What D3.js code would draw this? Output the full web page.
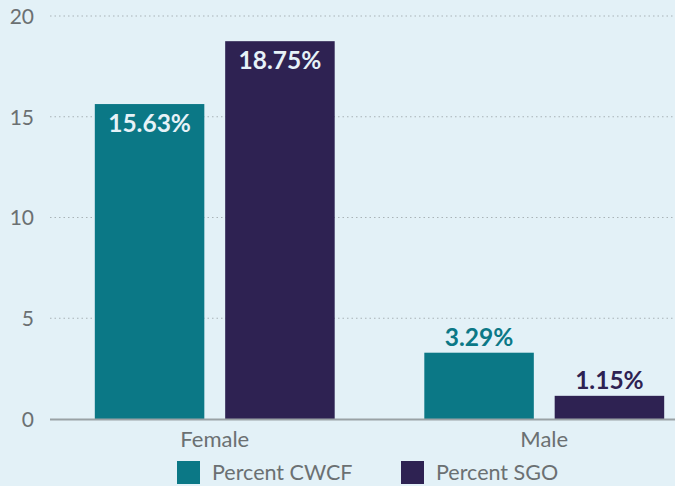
<!DOCTYPE html>
<html>
<head>
<meta charset="utf-8">
<script src="https://cdn.jsdelivr.net/npm/d3@7"></script>
<style>
  html, body { margin: 0; padding: 0; background: #e3f1f7; }
  svg { display: block; font-family: Lato, "Open Sans", sans-serif; }
</style>
</head>
<body>
<svg id="chart" width="675" height="486"></svg>
<script>
// dados do gráfico
const groups = ["Female", "Male"];
const seriesNames = ["Percent CWCF", "Percent SGO"];
const cwcfValues = [15.63, 3.29];
const sgoValues = [18.75, 1.15];
const yTicks = [0, 5, 10, 15, 20];

const colors = ["#0b7886", "#2e2252"];
const textGrey = "#6b7072";

const svg = d3.select("#chart");
const W = 675, H = 486;

// escalas
const y = d3.scaleLinear().domain([0, 20]).range([419, 16]);
const x0 = d3.scaleBand().domain(groups).range([50, 709])
    .paddingInner(0.272).paddingOuter(0.136);
const x1 = d3.scaleBand().domain(seriesNames).range([0, x0.bandwidth()])
    .paddingInner(0.16);

// linhas de grade pontilhadas
svg.append("g")
    .selectAll("line")
    .data(yTicks.filter(d => d > 0))
    .join("line")
    .attr("x1", 50).attr("x2", W)
    .attr("y1", d => y(d)).attr("y2", d => y(d))
    .attr("stroke", "#a9b3b7")
    .attr("stroke-width", 1.2)
    .attr("stroke-dasharray", "1.5,3");

// eixo Y
const yAxis = svg.append("g")
    .attr("transform", "translate(34,0)")
    .call(d3.axisLeft(y).tickValues(yTicks).tickSize(0).tickPadding(0));
yAxis.select(".domain").remove();
yAxis.selectAll("text")
    .attr("fill", textGrey)
    .attr("font-size", 21)
    .attr("font-family", "Lato, sans-serif")
    .attr("dy", "0.35em");

// barras
const rows = groups.map((g, i) => ({ group: g, values: [cwcfValues[i], sgoValues[i]] }));

const gGroups = svg.append("g")
    .selectAll("g")
    .data(rows)
    .join("g")
    .attr("transform", d => `translate(${x0(d.group)},0)`);

gGroups.selectAll("rect")
    .data(d => d.values.map((v, j) => ({ series: seriesNames[j], value: v, idx: j })))
    .join("rect")
    .attr("x", d => x1(d.series))
    .attr("y", d => y(d.value))
    .attr("width", x1.bandwidth())
    .attr("height", d => y(0) - y(d.value))
    .attr("fill", d => colors[d.idx]);

// rótulos de valor
gGroups.selectAll("text.val")
    .data(d => d.values.map((v, j) => ({ series: seriesNames[j], value: v, idx: j })))
    .join("text")
    .attr("class", "val")
    .attr("x", d => x1(d.series) + x1.bandwidth() / 2)
    .attr("y", d => d.value > 10 ? y(d.value) + 28 : y(d.value) - 7)
    .attr("text-anchor", "middle")
    .attr("font-size", 24.5)
    .attr("font-weight", "bold")
    .attr("fill", d => d.value > 10 ? "#e6f2f8" : colors[d.idx])
    .text(d => d.value.toFixed(2) + "%");

// eixo X (linha base)
svg.append("line")
    .attr("x1", 50).attr("x2", W)
    .attr("y1", 419.5).attr("y2", 419.5)
    .attr("stroke", "#9aa2a5")
    .attr("stroke-width", 2);

svg.append("g")
    .selectAll("text")
    .data(groups)
    .join("text")
    .attr("x", d => x0(d) + x0.bandwidth() / 2)
    .attr("y", 447)
    .attr("text-anchor", "middle")
    .attr("font-size", 22)
    .attr("fill", textGrey)
    .text(d => d);

// legenda
const legendX = [177, 401];
const legend = svg.append("g")
    .selectAll("g")
    .data(seriesNames)
    .join("g")
    .attr("transform", (d, i) => `translate(${legendX[i]},461)`);

legend.append("rect")
    .attr("width", 23).attr("height", 23)
    .attr("fill", (d, i) => colors[i]);

legend.append("text")
    .attr("x", 35).attr("y", 19)
    .attr("font-size", 21.5)
    .attr("fill", textGrey)
    .text(d => d);
</script>
</body>
</html>
